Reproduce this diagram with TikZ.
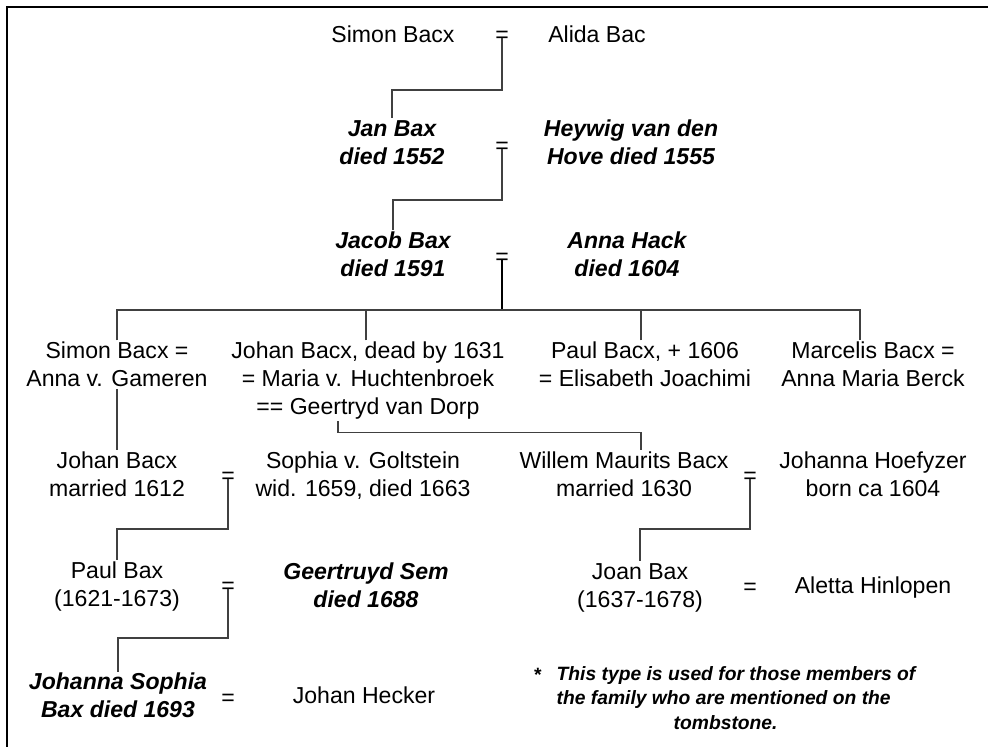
\documentclass[tikz,border=0pt]{standalone}
\usepackage{fontspec}
\setmainfont{Liberation Sans}
\usetikzlibrary{calc}
\usetikzlibrary{positioning}
\tikzset{famnode/.style={align=center, anchor=north, inner sep=1pt, font=\fontsize{16.4}{19.9}\selectfont},
  tombnode/.style={famnode, font=\fontsize{16.4}{19.9}\selectfont\bfseries\itshape},
  wed/.style={inner sep=0pt, font=\fontsize{16.4}{19.9}\selectfont},
  kin/.style={draw=black!75, line width=0.9pt},
  heir/.style={draw=black, line width=1.8pt},
  notenode/.style={align=left, anchor=north west, inner sep=1pt, font=\fontsize{13.7}{17.2}\selectfont\bfseries\itshape}}

\begin{document}
\begin{tikzpicture}[x=0.025cm, y=-0.025cm]
    \useasboundingbox (0,0) rectangle (988,747);
    \draw[line width=1.4pt] (7,747) -- (7,7) -- (988,7);

    \node[famnode] (simon) at (393,24) {Simon Bacx};
    \node[wed] (w1) at (502,37) {=};
    \node[famnode] (alida) at (597,24) {Alida Bac};

    \node[tombnode] (jan) at (392,118.5) {Jan Bax\\died 1552};
    \node[wed] (w2) at (502,148) {=};
    \node[tombnode] (heywig) at (631,118.5) {Heywig van den\\Hove died 1555};

    \node[tombnode] (jacob) at (393,230.5) {Jacob Bax\\died 1591};
    \node[wed] (w3) at (502,259) {=};
    \node[tombnode] (hack) at (627,230.5) {Anna Hack\\died 1604};

    \node[famnode] (simon2) at (117,340.5) {Simon Bacx =\\Anna v. Gameren};
    \node[famnode] (johan) at (368,340.5) {Johan Bacx, dead by 1631\\= Maria v. Huchtenbroek\\== Geertryd van Dorp};
    \node[famnode] (paul) at (645,340.5) {Paul Bacx, + 1606\\= Elisabeth Joachimi};
    \node[famnode] (marcelis) at (873,340.5) {Marcelis Bacx =\\Anna Maria Berck};

    \node[famnode] (johan2) at (117,450.5) {Johan Bacx\\married 1612};
    \node[wed] (w4) at (228,478) {=};
    \node[famnode] (sophia) at (363,450.5) {Sophia v. Goltstein\\wid. 1659, died 1663};
    \node[famnode] (willem) at (624,450.5) {Willem Maurits Bacx\\married 1630};
    \node[wed] (w5) at (750,478) {=};
    \node[famnode] (hoefyzer) at (873,450.5) {Johanna Hoefyzer\\born ca 1604};

    \node[famnode] (paul2) at (117,560.5) {Paul Bax\\(1621-1673)};
    \node[wed] (w6) at (228,588) {=};
    \node[tombnode] (sem) at (366,561.5) {Geertruyd Sem\\died 1688};
    \node[famnode] (joan) at (640,561.5) {Joan Bax\\(1637-1678)};
    \node[wed] (w7) at (750,589) {=};
    \node[famnode] (aletta) at (873,575.5) {Aletta Hinlopen};

    \node[tombnode] (sophia2) at (118,671.5) {Johanna Sophia\\Bax died 1693};
    \node[wed] (w8) at (228,700) {=};
    \node[famnode] (hecker) at (364,685.5) {Johan Hecker};

    \node[notenode, anchor=north] (star) at (537,667) {*};
    \node[notenode] (note) at (555,665) {This type is used for those members of\\the family who are mentioned on the\\\hspace*{2.925cm}tombstone.};

    \draw[kin] ([yshift=0.125cm]w1.south) -- (w1.south |- 0,90) -| (jan.north);
    \draw[kin] ([yshift=0.125cm]w2.south) -- (w2.south |- 0,200) -| (jacob.north);
    \coordinate (sib) at (502,310);
    \draw[heir] ([yshift=0.125cm]w3.south) -- (sib);
    \draw[kin] (simon2.north) |- (sib) -| ([xshift=-0.325cm]marcelis.north);
    \draw[kin] ([xshift=-0.05cm]johan.north) -- ([xshift=-0.05cm]johan.north |- sib);
    \draw[kin] ([xshift=-0.1cm]paul.north) -- ([xshift=-0.1cm]paul.north |- sib);
    \draw[kin] (simon2.south) -- (johan2.north);
    \draw[kin] ([xshift=-0.75cm]johan.south) -- ++(0,11) -| ([xshift=0.425cm]willem.north);
    \draw[kin] ([yshift=0.125cm]w4.south) -- (w4.south |- 0,529) -| (paul2.north);
    \draw[kin] ([yshift=0.125cm]w5.south) -- (w5.south |- 0,529) -| (joan.north);
    \draw[kin] ([yshift=0.125cm]w6.south) -- (w6.south |- 0,638) -| (sophia2.north);
\end{tikzpicture}
\end{document}
